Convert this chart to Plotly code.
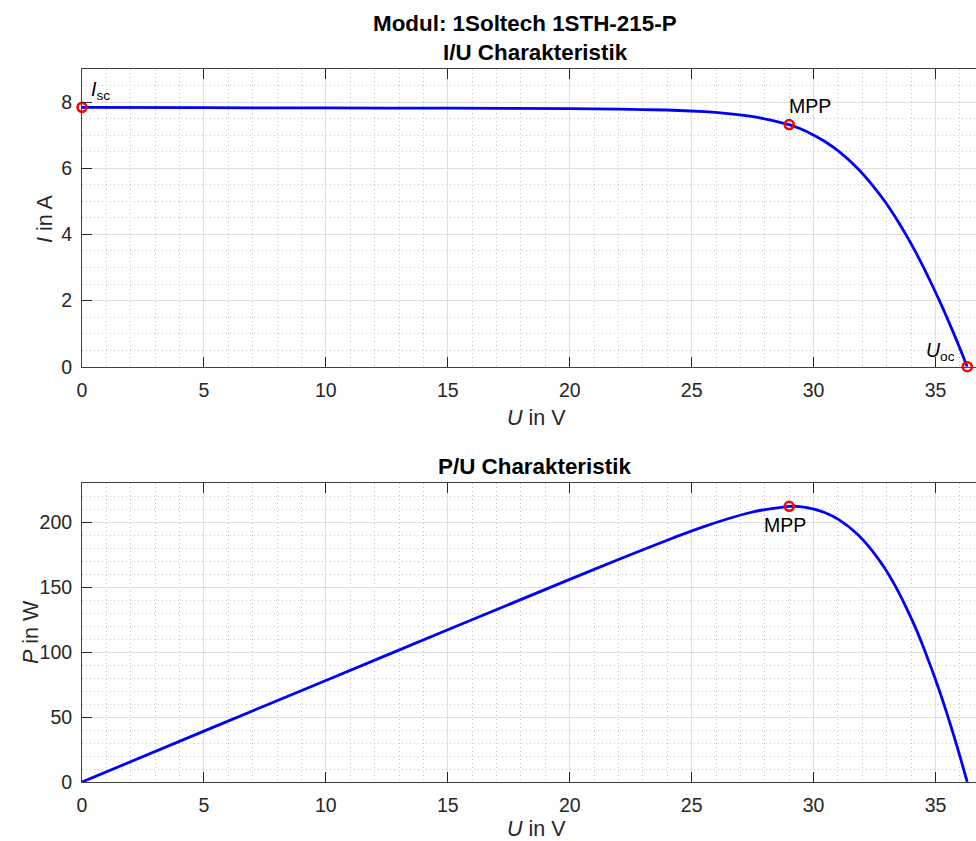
import plotly.graph_objects as go

# ---- data ----
U_V = [0.0, 5.0, 10.0, 15.0, 20.0, 22.0, 23.97, 25.53, 26.39, 27.45, 28.14, 28.66,
       29.0, 29.44, 30.01, 30.48, 31.05, 31.8, 32.4, 32.92, 33.37, 33.78, 34.16,
       34.51, 34.84, 35.16, 35.46, 35.75, 36.03, 36.3]
I_A = [7.84, 7.83, 7.823, 7.815, 7.80, 7.785, 7.76, 7.71, 7.66, 7.565, 7.47, 7.38,
       7.32, 7.20, 7.00, 6.80, 6.50, 6.00, 5.50, 5.00, 4.50, 4.00, 3.50,
       3.00, 2.50, 2.00, 1.50, 1.00, 0.50, 0.0]
P_W = [0.0, 39.15, 78.2, 117.2, 156.0, 171.3, 186.0, 196.8, 202.1, 207.7, 210.2, 211.5,
       212.3, 212.0, 210.1, 207.3, 201.8, 190.8, 178.2, 164.6, 150.2, 135.1, 119.6,
       103.5, 87.1, 70.3, 53.2, 35.75, 18.0, 0.0]

ISC = (0.0, 7.84)
MPP_UI = (29.0, 7.32)
UOC = (36.3, 0.0)
MPP_UP = (29.0, 212.3)

TITLE_1 = "Modul: 1Soltech 1STH-215-P"
TITLE_2 = "I/U Charakteristik"
TITLE_3 = "P/U Charakteristik"

FONT = "Liberation Sans, Arial, Helvetica, sans-serif"
TXT = "#262626"
W, H = 976, 841
ML, MR, MT, MB = 82, 0, 69, 59
PW = W - ML - MR
PH = H - MT - MB


def px_x(px):
    return (px - ML) / PW


def px_y(py):
    return (H - MB - py) / PH


fig = go.Figure()

line_style = dict(color="#0000ff", width=2.8, shape="spline", smoothing=0.6)
marker_style = dict(symbol="circle-open", size=9, color="#ff0000", line=dict(width=2.6, color="#ff0000"))

fig.add_trace(go.Scatter(x=U_V, y=I_A, mode="lines", line=line_style,
                         xaxis="x", yaxis="y", showlegend=False, hoverinfo="skip"))
fig.add_trace(go.Scatter(x=[ISC[0], MPP_UI[0], UOC[0]], y=[ISC[1], MPP_UI[1], UOC[1]], mode="markers",
                         marker=marker_style, cliponaxis=False, xaxis="x", yaxis="y",
                         showlegend=False, hoverinfo="skip"))
fig.add_trace(go.Scatter(x=U_V, y=P_W, mode="lines", line=line_style,
                         xaxis="x2", yaxis="y2", showlegend=False, hoverinfo="skip"))
fig.add_trace(go.Scatter(x=[MPP_UP[0]], y=[MPP_UP[1]], mode="markers",
                         marker=marker_style, cliponaxis=False, xaxis="x2", yaxis="y2",
                         showlegend=False, hoverinfo="skip"))

ax_common = dict(
    ticks="inside", ticklen=10, tickcolor=TXT, tickwidth=1,
    showline=True, linecolor="#404040", linewidth=1,
    showgrid=True, gridcolor="#dedede", gridwidth=1,
    zeroline=False,
    tickfont=dict(family=FONT, size=19.5, color=TXT),
)

minor_grid = dict(showgrid=True, gridcolor="#c4c4c4", griddash="1px,3px", gridwidth=1, ticks="")

x_common = dict(ax_common, range=[0, PW / 24.386], dtick=5, tick0=0, mirror="ticks",
                minor=dict(minor_grid, dtick=1), ticklabelstandoff=6)

fig.update_layout(
    width=W, height=H,
    margin=dict(l=ML, r=MR, t=MT, b=MB),
    paper_bgcolor="white", plot_bgcolor="white",
    font=dict(family=FONT, color=TXT),
    xaxis=dict(x_common, anchor="y", domain=[0, 1]),
    yaxis=dict(ax_common, anchor="x", domain=[px_y(366.7), 1], range=[0, 9], dtick=2, tick0=0,
               minor=dict(minor_grid, dtick=0.5), ticklabelstandoff=5),
    xaxis2=dict(x_common, anchor="y2", domain=[0, 1]),
    yaxis2=dict(ax_common, anchor="x2", domain=[0, px_y(483.3)], range=[0, 230], dtick=50, tick0=0,
                minor=dict(minor_grid, dtick=10), ticklabelstandoff=5),
)

ann = []
# titles
for text, cx, cy in [(TITLE_1, 525, 23.5), (TITLE_2, 535.5, 52.5), (TITLE_3, 534, 466.5)]:
    ann.append(dict(text="<b>" + text + "</b>", x=px_x(cx), y=px_y(cy), xref="paper", yref="paper",
                    xanchor="center", yanchor="middle", showarrow=False,
                    font=dict(family=FONT, size=22.4, color="#000000")))
# axis labels
lab_font = dict(family=FONT, size=21.5, color=TXT)
ann.append(dict(text="<i>U</i> in V", x=px_x(536), y=px_y(418), xref="paper", yref="paper",
                xanchor="center", yanchor="middle", showarrow=False, font=lab_font))
ann.append(dict(text="<i>U</i> in V", x=px_x(536), y=px_y(829), xref="paper", yref="paper",
                xanchor="center", yanchor="middle", showarrow=False, font=lab_font))
ann.append(dict(text="<i>I</i> in A", x=px_x(45), y=px_y(219), xref="paper", yref="paper", textangle=-90,
                xanchor="center", yanchor="middle", showarrow=False, font=lab_font))
ann.append(dict(text="<i>P</i> in W", x=px_x(31), y=px_y(632), xref="paper", yref="paper", textangle=-90,
                xanchor="center", yanchor="middle", showarrow=False, font=lab_font))
# point labels
pt_font = dict(family=FONT, size=19.5, color="#000000")
ann.append(dict(text="<i>I</i><sub>sc</sub>", x=ISC[0], y=ISC[1], xref="x", yref="y", xanchor="left", yanchor="bottom",
                xshift=7, yshift=2, showarrow=False, font=pt_font))
ann.append(dict(text="MPP", x=MPP_UI[0], y=MPP_UI[1], xref="x", yref="y", xanchor="left", yanchor="bottom",
                xshift=-2, yshift=6, showarrow=False, font=pt_font))
ann.append(dict(text="<i>U</i><sub>oc</sub>", x=UOC[0], y=UOC[1], xref="x", yref="y", xanchor="right", yanchor="bottom",
                xshift=-10, yshift=1, showarrow=False, font=pt_font))
ann.append(dict(text="MPP", x=MPP_UP[0], y=MPP_UP[1], xref="x2", yref="y2", xanchor="center", yanchor="top",
                xshift=-4, yshift=-6, showarrow=False, font=pt_font))
fig.update_layout(annotations=ann)

fig.write_html("out.html")
